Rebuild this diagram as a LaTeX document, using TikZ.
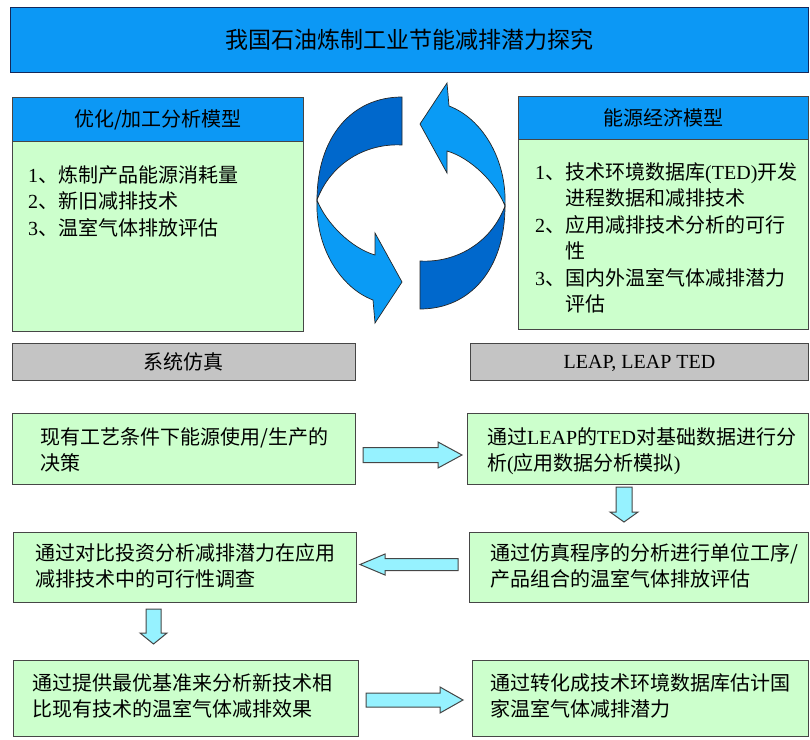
\documentclass[tikz,border=0pt]{standalone}
\usepackage{fontspec}
\setmainfont{Noto Sans CJK SC}
\newfontfamily\tmsfont{Liberation Serif}
\newcommand\lat[1]{{\tmsfont #1}}
\definecolor{hdrblue}{RGB}{12,152,245}
\definecolor{ribdark}{RGB}{0,104,204}
\definecolor{riblight}{RGB}{10,155,245}
\definecolor{boxgreen}{RGB}{204,255,204}
\definecolor{bargray}{RGB}{196,196,196}
\definecolor{arrowcyan}{RGB}{150,242,255}
\definecolor{edge}{RGB}{70,70,70}
\definecolor{navy}{RGB}{20,40,90}
\begin{document}
\begin{tikzpicture}[x=1pt,y=-1pt,
  box/.style={draw=edge, line width=0.9pt, fill=boxgreen, anchor=north west, inner sep=0},
  hdr/.style={draw=edge, line width=0.9pt, fill=hdrblue, anchor=north west, inner sep=0,
              font=\fontsize{20}{24}\selectfont},
  bar/.style={draw=edge, line width=0.9pt, fill=bargray, anchor=north west, inner sep=0,
              font=\fontsize{20}{24}\selectfont},
  txt/.style={font=\fontsize{20}{26.5}\selectfont, inner sep=0, align=left,
              text width=330pt, anchor=base west},
  barrow/.style={draw=edge, fill=arrowcyan, line width=1pt, line join=miter},
  ribd/.style={draw=black!85, line width=0.7pt, fill=ribdark},
  ribl/.style={draw=black!85, line width=0.7pt, fill=riblight}]

\useasboundingbox (0,0) rectangle (810,739);

% title
\node[draw=navy, line width=0.9pt, fill=hdrblue, anchor=north west, inner sep=0,
      minimum width=798, minimum height=65, font=\fontsize{23}{26}\selectfont]
      (title) at (10,7) {我国石油炼制工业节能减排潜力探究};

% left model
\node[hdr, minimum width=291, minimum height=44] (lh) at (12,97) {优化/加工分析模型};
\node[box, minimum width=291, minimum height=190] (lb) at (12,141) {};
\node[txt] (lbt) at (28,182) {\lat{1}、炼制产品能源消耗量\\\lat{2}、新旧减排技术\\\lat{3}、温室气体排放评估};

% right model
\node[hdr, minimum width=290, minimum height=43] (rh) at (518,96) {能源经济模型};
\node[box, minimum width=290, minimum height=190] (rb) at (518,139) {};
\node[txt] (rbt) at (535,179) {\lat{1}、技术环境数据库\lat{(TED)}开发\\
\phantom{\lat{1}、}进程数据和减排技术\\
\lat{2}、应用减排技术分析的可行\\
\phantom{\lat{2}、}性\\
\lat{3}、国内外温室气体减排潜力\\
\phantom{\lat{3}、}评估};

% cycle arrows
\foreach \r in {0,180}{
\begin{scope}[shift={(411,203)}, rotate=\r]
  \path[ribd] (-9,-106) .. controls (-60,-106) and (-94,-65) .. (-94,-3)
     .. controls (-80,-40) and (-45,-60) .. (-9,-58) -- cycle;
  \path[ribl] (-94,-3) .. controls (-96,45) and (-70,85) .. (-38,97)
     -- (-36,120) -- (-9,79) -- (-36,30) -- (-36,52)
     .. controls (-60,45) and (-85,20) .. (-94,-3) -- cycle;
\end{scope}}

% gray bars
\node[bar, minimum width=343, minimum height=37] (gl) at (12,343) {系统仿真};
\node[bar, minimum width=338, minimum height=37] (gr) at (470,343) {\vphantom{系}\lat{LEAP, LEAP TED}};

% row 1
\node[box, minimum width=343, minimum height=71] (r1l) at (12,413) {};
\node[txt] (r1lt) at (40,444) {现有工艺条件下能源使用/生产的\\决策};
\node[box, minimum width=341, minimum height=71] (r1r) at (467,413) {};
\node[txt] (r1rt) at (487,444) {通过\lat{LEAP}的\lat{TED}对基础数据进行分\\析\lat{(}应用数据分析模拟\lat{)}};

% row 2
\node[box, minimum width=343, minimum height=70] (r2l) at (13,532) {};
\node[txt] (r2lt) at (35,560) {通过对比投资分析减排潜力在应用\\减排技术中的可行性调查};
\node[box, minimum width=339, minimum height=70] (r2r) at (469,532) {};
\node[txt] (r2rt) at (490,560) {通过仿真程序的分析进行单位工序/\\产品组合的温室气体排放评估};

% row 3
\node[box, minimum width=345, minimum height=76] (r3l) at (13,660) {};
\node[txt] (r3lt) at (32,690) {通过提供最优基准来分析新技术相\\比现有技术的温室气体减排效果};
\node[box, minimum width=336, minimum height=76] (r3r) at (472,660) {};
\node[txt] (r3rt) at (490,690) {通过转化成技术环境数据库估计国\\家温室气体减排潜力};

% block arrows
\path[barrow] (363,447.5) -- (438,447.5) -- (438,442) -- (462,455) -- (438,468)
   -- (438,462.5) -- (363,462.5) -- cycle;
\path[barrow] (458,558.5) -- (385,558.5) -- (385,554) -- (360,564.5) -- (385,575)
   -- (385,570.5) -- (458,570.5) -- cycle;
\path[barrow] (366,693) -- (440,693) -- (440,687) -- (463,700) -- (440,713)
   -- (440,707) -- (366,707) -- cycle;
\path[barrow] (616,487) -- (632,487) -- (632,512) -- (638,512) -- (624,522)
   -- (610,512) -- (616,512) -- cycle;
\path[barrow] (146,609) -- (161,609) -- (161,633) -- (167,633) -- (153.5,644)
   -- (140,633) -- (146,633) -- cycle;
\end{tikzpicture}
\end{document}
